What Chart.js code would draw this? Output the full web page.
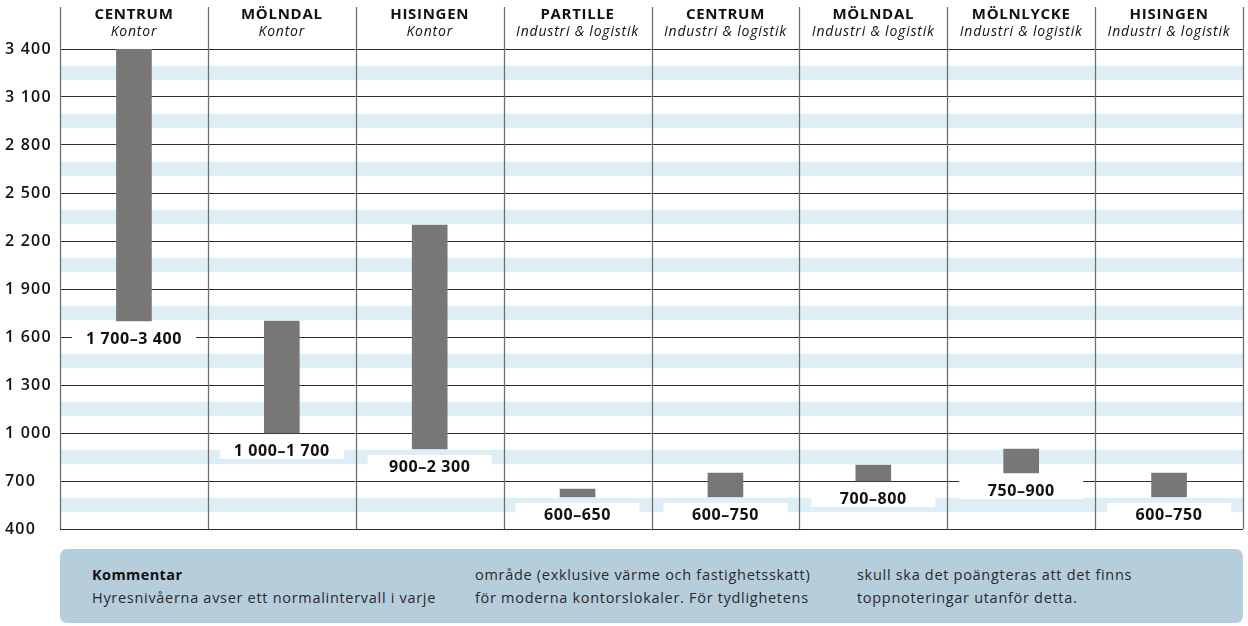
<!DOCTYPE html>
<html lang="sv">
    <head>
        <meta charset="utf-8" />
        <title>Hyresnivåer</title>
        <script src="https://cdn.jsdelivr.net/npm/chart.js"></script>
        <style>
            html, body { margin: 0; padding: 0; background: #fff; }
            #wrap { position: relative; width: 1248px; height: 626px; overflow: hidden; }
            #rentChart { position: absolute; left: 0; top: 0; }
            #comment {
              position: absolute;
              left: 60px; top: 549px;
              width: 1183px; height: 74px;
              background: #b6cddc;
              border-radius: 7px;
              font-family: "Open Sans", sans-serif;
              font-size: 14.5px;
              letter-spacing: 0.7px;
              color: #2a2a2a;
            }
            #comment .col { position: absolute; top: 14px; line-height: 23px; white-space: nowrap; }
            #comment b { font-weight: 700; color: #111; letter-spacing: 0.4px; }
        </style>
    </head>
    <body>
        <div id="wrap">
          <canvas id="rentChart" width="1248" height="626"></canvas>
          <div id="comment">
            <div class="col" style="left:32px"><b>Kommentar</b><br>Hyresnivåerna avser ett normalintervall i varje</div>
            <div class="col" style="left:415px">område (exklusive värme och fastighetsskatt)<br>för moderna kontorslokaler. För tydlighetens</div>
            <div class="col" style="left:797px">skull ska det poängteras att det finns<br>toppnoteringar utanför detta.</div>
          </div>
        </div>
        <script>
            // areas and segment under each column
            const areas = ['CENTRUM', 'MÖLNDAL', 'HISINGEN', 'PARTILLE', 'CENTRUM', 'MÖLNDAL', 'MÖLNLYCKE', 'HISINGEN'];
            const segments = ['Kontor', 'Kontor', 'Kontor', 'Industri & logistik', 'Industri & logistik',
                              'Industri & logistik', 'Industri & logistik', 'Industri & logistik'];

            // rent range, kr/kvm
            const rentLow  = [1700, 1000,  900, 600, 600, 700, 750, 600];
            const rentHigh = [3400, 1700, 2300, 650, 750, 800, 900, 750];
            const rangeLabels = ['1 700–3 400', '1 000–1 700', '900–2 300', '600–650',
                                 '600–750', '700–800', '750–900', '600–750'];

            const yMin = 400, yMax = 3400, yStep = 300;

            const FONT = '"Open Sans", sans-serif';

            // stripes, column lines, headers
            const backdrop = {
              id: 'backdrop',
              beforeDraw(chart) {
                // wider lettering, closer to the original typeface
                chart.ctx.letterSpacing = '1.2px';
              },
              beforeDatasetsDraw(chart) {
                const { ctx, chartArea: a, scales: { x, y } } = chart;
                ctx.save();
                // light blue band in the middle of each grid step
                ctx.fillStyle = '#ddeef6';
                for (let v = yMin; v < yMax; v += yStep) {
                  const top = y.getPixelForValue(v + yStep / 2 + 45);
                  const bot = y.getPixelForValue(v + yStep / 2 - 45);
                  ctx.fillRect(a.left, top, a.right - a.left, bot - top);
                }
                // column separators, up into header
                const w = (a.right - a.left) / areas.length;
                ctx.strokeStyle = '#6f6f6f';
                ctx.lineWidth = 1.3;
                for (let i = 0; i <= areas.length; i++) {
                  const px = Math.round(a.left + i * w) + 0.5;
                  ctx.beginPath();
                  ctx.moveTo(px, 7);
                  ctx.lineTo(px, a.bottom);
                  ctx.stroke();
                }
                // headers
                ctx.fillStyle = '#111';
                ctx.textAlign = 'center';
                ctx.textBaseline = 'middle';
                areas.forEach((name, i) => {
                  const cx = x.getPixelForValue(i);
                  ctx.letterSpacing = '0.7px';
                  ctx.font = 'bold 15px ' + FONT;
                  ctx.fillText(name, cx, 15);
                  ctx.letterSpacing = '0.8px';
                  ctx.font = 'italic 14px ' + FONT;
                  ctx.fillText(segments[i], cx, 32);
                });
                ctx.restore();
              },
              afterDatasetsDraw(chart) {
                const { ctx, scales: { x, y } } = chart;
                ctx.save();
                ctx.textAlign = 'center';
                ctx.textBaseline = 'middle';
                ctx.letterSpacing = '0.6px';
                ctx.font = 'bold 16px ' + FONT;
                rangeLabels.forEach((txt, i) => {
                  const cx = x.getPixelForValue(i);
                  const ty = y.getPixelForValue(rentLow[i]) + 17;
                  ctx.fillStyle = '#fff';
                  ctx.fillRect(cx - 62, ty - 11, 124, 20);
                  ctx.fillStyle = '#111';
                  ctx.fillText(txt, cx, ty + 1);
                });
                ctx.restore();
              }
            };

            new Chart(document.getElementById('rentChart'), {
              type: 'bar',
              data: {
                labels: areas,
                datasets: [{
                  data: rentLow.map((lo, i) => [lo, rentHigh[i]]),
                  backgroundColor: '#787776',
                  borderWidth: 0,
                  barThickness: 35
                }]
              },
              options: {
                responsive: false,
                animation: false,
                layout: { padding: { left: 5, right: 5, top: 49, bottom: 97 } },
                plugins: { legend: { display: false }, tooltip: { enabled: false } },
                scales: {
                  x: { display: false, offset: true, grid: { display: false } },
                  y: {
                    min: yMin,
                    max: yMax,
                    border: { display: false },
                    grid: { color: '#2e2e2e', lineWidth: 1, drawTicks: false },
                    afterFit(scale) { scale.width = 55; },
                    ticks: {
                      stepSize: yStep,
                      crossAlign: 'far',
                      color: '#111',
                      font: { family: FONT, size: 16, weight: '600' },
                      callback: v => String(v).replace(/\B(?=(\d{3})+(?!\d))/g, ' ')
                    }
                  }
                }
              },
              plugins: [backdrop]
            });
        </script>
    </body>
</html>
